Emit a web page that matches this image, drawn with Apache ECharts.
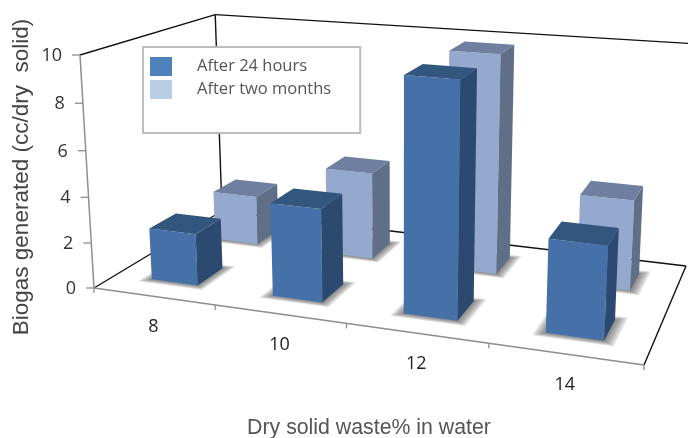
<!DOCTYPE html>
<html><head><meta charset="utf-8">
<style>html,body{margin:0;padding:0;background:#fff}#c{width:688px;height:438px}</style>
<script src="https://cdn.jsdelivr.net/npm/echarts@6/dist/echarts.min.js"></script>
</head><body><div id="c"></div>
<script>
var categories = ['8', '10', '12', '14'];
var valueTicks = [0, 2, 4, 6, 8, 10];
var after24h = [2.3, 4.05, 9.9, 3.9];
var afterTwoMonths = [2.3, 4.0, 9.8, 4.0];
var seriesNames = ['After 24 hours', 'After two months'];

// Perspective box of the plot: floor corners (front-left, front-right, back-right, back-left) and vertical vanishing point
var FLOOR = [[94,288],[644,365],[686,266],[222,211]];
var VANISH = [400,5381], VC = -0.04375, TOPSKEW = 6.5, UWARP = -0.044;
var MAXV = 10, BARU = 0.0485, BARV = 0.098;
var SHADOW_LAYERS = 8, SHADOW_U = 0.0024, SHADOW_V = 0.0045;

function makeProjection(q){
  var x0=q[0][0],y0=q[0][1],x1=q[1][0],y1=q[1][1],x2=q[2][0],y2=q[2][1],x3=q[3][0],y3=q[3][1];
  var dx1=x1-x2,dx2=x3-x2,sx=x0-x1+x2-x3,dy1=y1-y2,dy2=y3-y2,sy=y0-y1+y2-y3;
  var den=dx1*dy2-dx2*dy1;
  var g=(sx*dy2-dx2*sy)/den,h=(dx1*sy-sx*dy1)/den;
  var a=x1-x0+g*x1,b=x3-x0+h*x3,d=y1-y0+g*y1,e=y3-y0+h*y3;
  return function(u0,v,val){
    var u=u0+UWARP*u0*(1-u0);
    var k=val/MAXV, w=g*u+h*v+1+VC*k;
    return [(a*u+b*v+x0+VC*VANISH[0]*k)/w,(d*u+e*v+y0+VC*VANISH[1]*k)/w-TOPSKEW*k*u*v];
  };
}
var P=makeProjection(FLOOR);
function poly(pts,fill){
  return {type:'polygon',shape:{points:pts},style:{fill:fill},silent:true};
}
function seg(a,b,color,w){
  return {type:'line',shape:{x1:a[0],y1:a[1],x2:b[0],y2:b[1]},style:{stroke:color,lineWidth:w,fill:null},silent:true};
}
function txt(x,y,t,align,font,color){
  return {type:'text',x:x,y:y,style:{text:t,textAlign:align,textVerticalAlign:'middle',font:font,fill:color},silent:true};
}
function barItem(vc,cols){
  return function(params,api){
    var i=api.value(0),val=api.value(1),uc=(i+0.5)/categories.length;
    var u0=uc-BARU,u1=uc+BARU,v0=vc-BARV,v1=vc+BARV;
    var ch=[];
    for(var n=SHADOW_LAYERS;n>=1;n--){
      var eu=n*SHADOW_U,ev=n*SHADOW_V;
      ch.push(poly([P(u0-eu,v0-ev,0),P(u1+eu,v0-ev,0),P(u1+eu,v1+ev,0),P(u0-eu,v1+ev,0)],'rgba(70,70,70,0.11)'));
    }
    ch.push(poly([P(u0,v0,val),P(u1,v0,val),P(u1,v0,0),P(u0,v0,0)],cols[0]));
    ch.push(poly([P(u1,v0,val),P(u1,v1,val),P(u1,v1,0),P(u1,v0,0)],cols[1]));
    ch.push(poly([P(u0,v0,val),P(u1,v0,val),P(u1,v1,val),P(u0,v1,val)],cols[2]));
    return {type:'group',children:ch};
  };
}
function frameItem(){
  var black='#111',gray='#8e8e8e',ch=[];
  ch.push(seg(P(0,0,0),P(0,1,0),black,1.4));
  ch.push(seg(P(0,1,0),P(1,1,0),black,1.4));
  ch.push(seg(P(1,0,0),P(1,1,0),black,1.4));
  ch.push(seg(P(0,1,0),P(0,1,MAXV),black,1.4));
  ch.push(seg(P(0,0,MAXV),P(0,1,MAXV),black,1.4));
  ch.push(seg(P(0,1,MAXV),P(1,1,MAXV),black,1.4));
  ch.push(seg(P(0,0,0),P(0,0,MAXV),gray,1.5));
  ch.push(seg(P(0,0,0),P(1,0,0),gray,1.5));
  valueTicks.forEach(function(t){
    var p=P(0,0,t);
    ch.push(seg([p[0]-8,p[1]],p,gray,1.3));
    ch.push(txt(p[0]-18,p[1]+1,String(t),'right','18px "Open Sans"','#333'));
  });
  for(var i=0;i<=categories.length;i++){
    var q=P(i/categories.length,0,0);
    ch.push(seg(q,[q[0],q[1]+5],gray,1.3));
  }
  categories.forEach(function(c,i){
    var r=P((i+0.5)/categories.length,0,0);
    ch.push(txt(r[0],r[1]+31,c,'center','18px "Open Sans"','#222'));
  });
  return {type:'group',children:ch};
}
function rows(a){return a.map(function(v,i){return [i,v];});}
var chart=echarts.init(document.getElementById('c'));
chart.setOption({
  animation:false,
  backgroundColor:'#fff',
  legend:{
    left:143,top:47,orient:'vertical',
    data:[{name:seriesNames[0],itemStyle:{color:'#4f81bd'}},{name:seriesNames[1],itemStyle:{color:'#b9cde5'}}],
    icon:'rect',itemWidth:22,itemHeight:19,itemGap:4,
    padding:[10,29,34,7],
    backgroundColor:'#fff',borderColor:'#bdbdbd',borderWidth:2,borderRadius:0,
    textStyle:{fontFamily:'Open Sans',fontSize:16.5,lineHeight:19,color:'#555',padding:[0,0,0,20]},
    selectedMode:false
  },
  graphic:[
    {type:'text',x:22,y:177,rotation:Math.PI/2,style:{text:'Biogas generated (cc/dry  solid)',textAlign:'center',textVerticalAlign:'middle',font:'22.5px "Liberation Sans"',fill:'#444'}},
    {type:'text',x:369,y:428,style:{text:'Dry solid waste% in water',textAlign:'center',textVerticalAlign:'middle',font:'21.3px "Liberation Sans"',fill:'#555'}}
  ],
  series:[
    {type:'custom',name:'frame',coordinateSystem:'none',silent:true,data:[[0]],renderItem:frameItem,z:1},
    {type:'custom',name:seriesNames[1],coordinateSystem:'none',silent:true,data:rows(afterTwoMonths),renderItem:barItem(0.75,['#95a9cf','#5f6f88','#6f7f9f']),itemStyle:{color:'#b9cde5'},z:2},
    {type:'custom',name:seriesNames[0],coordinateSystem:'none',silent:true,data:rows(after24h),renderItem:barItem(0.25,['#4571a8','#2c4a70','#33567f']),itemStyle:{color:'#4f81bd'},z:3}
  ]
});
</script></body></html>
